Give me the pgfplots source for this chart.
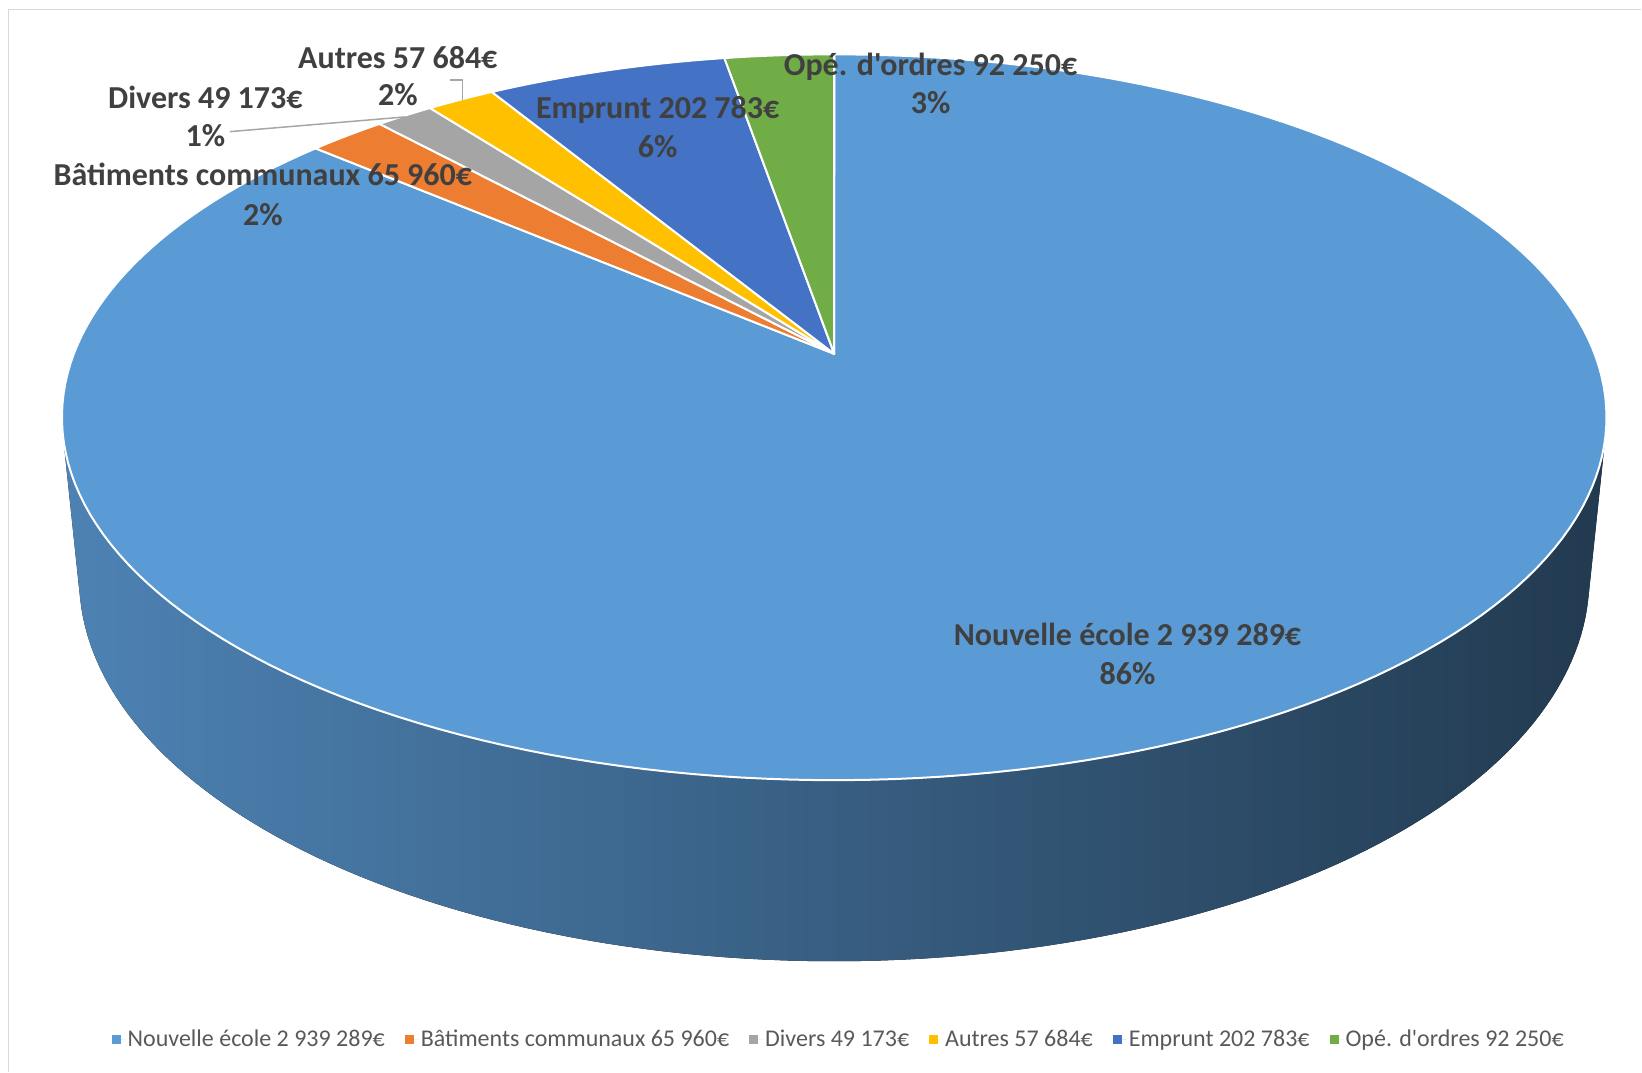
\documentclass[border=0pt]{standalone}
\usepackage{pgfplots}
\pgfplotsset{compat=1.18}
\usepackage{pgfplotstable}
\usepackage{fontspec}
\setmainfont{Carlito}[Ligatures=TeXOff]

\definecolor{cA}{HTML}{5B9BD5}
\definecolor{cB}{HTML}{ED7D31}
\definecolor{cC}{HTML}{A5A5A5}
\definecolor{cD}{HTML}{FFC000}
\definecolor{cE}{HTML}{4472C4}
\definecolor{cF}{HTML}{70AD47}
\definecolor{sideL}{HTML}{4D82B3}
\definecolor{sideM}{HTML}{31557A}
\definecolor{sideR}{HTML}{223A50}
\definecolor{lbltext}{HTML}{404040}
\definecolor{legtext}{HTML}{595959}
\definecolor{framec}{HTML}{D9D9D9}
\definecolor{leader}{HTML}{A6A6A6}

\pgfplotstableread{
name value
Nouvelle 2939289
Batiments 65960
Divers 49173
Autres 57684
Emprunt 202783
Ope 92250
}\piedata
\pgfplotstablegetelem{0}{value}\of\piedata\edef\vA{\pgfplotsretval}
\pgfplotstablegetelem{1}{value}\of\piedata\edef\vB{\pgfplotsretval}
\pgfplotstablegetelem{2}{value}\of\piedata\edef\vC{\pgfplotsretval}
\pgfplotstablegetelem{3}{value}\of\piedata\edef\vD{\pgfplotsretval}
\pgfplotstablegetelem{4}{value}\of\piedata\edef\vE{\pgfplotsretval}
\pgfplotstablegetelem{5}{value}\of\piedata\edef\vF{\pgfplotsretval}
\edef\tot{\fpeval{\vA+\vB+\vC+\vD+\vE+\vF}}
% slices run clockwise from 12 o'clock (90 degrees)
\edef\aA{\fpeval{round(90-360*\vA/\tot,4)}}
\edef\aB{\fpeval{round(\aA-360*\vB/\tot,4)}}
\edef\aC{\fpeval{round(\aB-360*\vC/\tot,4)}}
\edef\aD{\fpeval{round(\aC-360*\vD/\tot,4)}}
\edef\aE{\fpeval{round(\aD-360*\vE/\tot,4)}}
\def\aF{-270}

\begin{document}
\begin{tikzpicture}[declare function={
  pd(\t,\z)=5.07+0.886*sin(\t)-0.4627*\z;
  px(\t,\z)=834.6+3857*cos(\t)/pd(\t,\z);
  py(\t,\z)=354-3857*(0.4627*sin(\t)+0.886*\z)/pd(\t,\z);},
  lbl/.style={anchor=base, text=lbltext, font=\fontsize{32}{38}\selectfont\bfseries, inner sep=0pt}]
\begin{axis}[
  x=1pt, y=1pt, scale only axis,
  xmin=0, xmax=1642, ymin=0, ymax=1072, y dir=reverse,
  hide axis, clip=false,
  legend columns=6,
  legend image code/.code={\fill[#1] (0pt,-4.5pt) rectangle (9pt,4.5pt); \path (0pt,0pt) -- (14pt,0pt);},
  legend style={at={(0.511,0.03)}, anchor=center, draw=none, fill=none,
    font=\fontsize{24}{28}\selectfont, text=legtext,
    /tikz/every even column/.append style={column sep=18pt}},
]
\path (axis cs:0,0) rectangle (axis cs:1642,1072);
% frame
\draw[framec, line width=1.5pt] (axis cs:8.5,1072) -- (axis cs:8.5,9.5) -- (axis cs:1642,9.5);
% side of the pie (front part of the big slice)
\fill[left color=sideL, middle color=sideM, right color=sideR]
  plot[domain=192.87:347.13, samples=120, variable=\t] ({px(\t,0)},{py(\t,0)})
  -- plot[domain=347.13:192.87, samples=120, variable=\t] ({px(\t,-0.2417)},{py(\t,-0.2417)}) -- cycle;
% top face
\filldraw[fill=cA, draw=white, line width=2pt, line join=round] (834.6,354) -- plot[domain=\aA:90, samples=200, variable=\t] ({px(\t,0)},{py(\t,0)}) -- cycle;
\filldraw[fill=cB, draw=white, line width=2pt, line join=round] (834.6,354) -- plot[domain=\aB:\aA, samples=10, variable=\t] ({px(\t,0)},{py(\t,0)}) -- cycle;
\filldraw[fill=cC, draw=white, line width=2pt, line join=round] (834.6,354) -- plot[domain=\aC:\aB, samples=10, variable=\t] ({px(\t,0)},{py(\t,0)}) -- cycle;
\filldraw[fill=cD, draw=white, line width=2pt, line join=round] (834.6,354) -- plot[domain=\aD:\aC, samples=10, variable=\t] ({px(\t,0)},{py(\t,0)}) -- cycle;
\filldraw[fill=cE, draw=white, line width=2pt, line join=round] (834.6,354) -- plot[domain=\aE:\aD, samples=20, variable=\t] ({px(\t,0)},{py(\t,0)}) -- cycle;
\filldraw[fill=cF, draw=white, line width=2pt, line join=round] (834.6,354) -- plot[domain=\aF:\aE, samples=10, variable=\t] ({px(\t,0)},{py(\t,0)}) -- cycle;
% leader lines
\draw[leader, line width=1.5pt] (axis cs:230,131.7) -- (axis cs:405,117);
\draw[leader, line width=1.5pt] (axis cs:450,80) -- (axis cs:462.7,80) -- (axis cs:462.7,100);
% data labels
\node[lbl] at (axis cs:931,75.3) {Opé. d'ordres 92 250€};
\node[lbl] at (axis cs:931,113.3) {3\%};
\node[lbl] at (axis cs:658,118.3) {Emprunt 202 783€};
\node[lbl] at (axis cs:658,157.3) {6\%};
\node[lbl] at (axis cs:398,68.3) {Autres 57 684€};
\node[lbl] at (axis cs:398,105.3) {2\%};
\node[lbl] at (axis cs:205.5,108.3) {Divers 49 173€};
\node[lbl] at (axis cs:205.5,147) {1\%};
\node[lbl] at (axis cs:263,185.3) {Bâtiments communaux 65 960€};
\node[lbl] at (axis cs:263,225.3) {2\%};
\node[lbl] at (axis cs:1128,645.3) {Nouvelle école 2 939 289€};
\node[lbl] at (axis cs:1128,685.3) {86\%};
% legend
\addlegendimage{fill=cA, draw=none}\addlegendentry{Nouvelle école 2 939 289€}
\addlegendimage{fill=cB, draw=none}\addlegendentry{Bâtiments communaux 65 960€}
\addlegendimage{fill=cC, draw=none}\addlegendentry{Divers 49 173€}
\addlegendimage{fill=cD, draw=none}\addlegendentry{Autres 57 684€}
\addlegendimage{fill=cE, draw=none}\addlegendentry{Emprunt 202 783€}
\addlegendimage{fill=cF, draw=none}\addlegendentry{Opé. d'ordres 92 250€}
\end{axis}
\end{tikzpicture}
\end{document}
